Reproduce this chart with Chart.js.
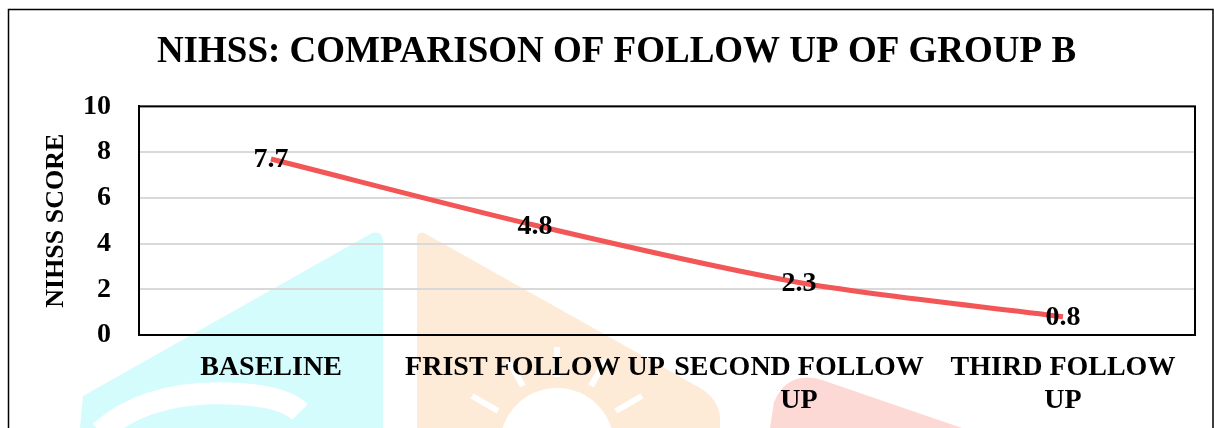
<!DOCTYPE html>
<html>
<head>
<meta charset="utf-8">
<script src="https://cdn.jsdelivr.net/npm/chart.js@4"></script>
<style>
  html, body { margin: 0; padding: 0; background: #fff; }
  #wrap { width: 1214px; height: 428px; position: relative; }
</style>
</head>
<body>
<div id="wrap"><canvas id="chart"></canvas></div>
<script>
// chart data
const categories = ['BASELINE', 'FRIST FOLLOW UP', 'SECOND FOLLOW UP', 'THIRD FOLLOW UP'];
const tickLabels = [['BASELINE'], ['FRIST FOLLOW UP'], ['SECOND FOLLOW', 'UP'], ['THIRD FOLLOW', 'UP']];
const scores = [7.7, 4.8, 2.3, 0.8];
const yTicks = [0, 2, 4, 6, 8, 10];

const serif = '"Liberation Serif", "Times New Roman", serif';
Chart.defaults.font.family = serif;
Chart.defaults.color = '#000';

// faint watermark behind the chart + outer frame
const backdrop = {
  id: 'backdrop',
  beforeDraw(chart) {
    const ctx = chart.ctx;
    ctx.save();
    ctx.fillStyle = '#fff';
    ctx.fillRect(0, 0, chart.width, chart.height);

    // cyan shape
    ctx.fillStyle = '#d4fcfc';
    ctx.beginPath();
    ctx.moveTo(80, 428);
    ctx.lineTo(83, 396);
    ctx.lineTo(372, 233);
    ctx.quadraticCurveTo(383, 230, 383, 242);
    ctx.lineTo(383, 428);
    ctx.closePath();
    ctx.fill();
    ctx.strokeStyle = '#fff';
    ctx.lineWidth = 22;
    ctx.beginPath();
    ctx.moveTo(100, 432);
    ctx.quadraticCurveTo(150, 388, 240, 394);
    ctx.quadraticCurveTo(285, 397, 300, 412);
    ctx.stroke();

    // orange shape with sun
    ctx.fillStyle = '#fdebd8';
    ctx.beginPath();
    ctx.moveTo(417, 428);
    ctx.lineTo(417, 238);
    ctx.quadraticCurveTo(418, 230, 426, 234);
    ctx.lineTo(700, 388);
    ctx.quadraticCurveTo(720, 400, 720, 420);
    ctx.lineTo(720, 428);
    ctx.closePath();
    ctx.fill();
    ctx.fillStyle = '#fff';
    ctx.beginPath();
    ctx.arc(557, 445, 57, 0, Math.PI * 2);
    ctx.fill();
    ctx.strokeStyle = '#fff';
    ctx.lineWidth = 6;
    [-150, -120, -90, -60, -30].forEach(a => {
      const r = a * Math.PI / 180;
      ctx.beginPath();
      ctx.moveTo(557 + Math.cos(r) * 68, 445 + Math.sin(r) * 68);
      ctx.lineTo(557 + Math.cos(r) * 98, 445 + Math.sin(r) * 98);
      ctx.stroke();
    });

    // red blob
    ctx.fillStyle = '#fdd9d5';
    ctx.beginPath();
    ctx.moveTo(770, 428);
    ctx.lineTo(774, 402);
    ctx.quadraticCurveTo(788, 370, 822, 380);
    ctx.lineTo(962, 428);
    ctx.closePath();
    ctx.fill();

    // outer frame
    ctx.strokeStyle = '#000';
    ctx.lineWidth = 1.5;
    ctx.beginPath();
    ctx.moveTo(8.5, 430);
    ctx.lineTo(8.5, 9.5);
    ctx.lineTo(1213, 9.5);
    ctx.lineTo(1213, 430);
    ctx.stroke();
    ctx.restore();
  },
  beforeDatasetsDraw(chart) {
    const { ctx, chartArea: a } = chart;
    ctx.save();
    ctx.strokeStyle = '#000';
    ctx.lineWidth = 2;
    ctx.strokeRect(a.left, a.top, a.right - a.left, a.bottom - a.top);
    ctx.restore();
  }
};

// value labels centred on the points
const valueLabels = {
  id: 'valueLabels',
  afterDatasetsDraw(chart) {
    const ctx = chart.ctx;
    const meta = chart.getDatasetMeta(0);
    ctx.save();
    ctx.font = 'bold 28px ' + serif;
    ctx.fillStyle = '#000';
    ctx.textAlign = 'center';
    ctx.textBaseline = 'middle';
    meta.data.forEach((pt, i) => {
      ctx.fillText(scores[i].toFixed(1), pt.x, pt.y + 1);
    });
    ctx.restore();
  }
};

new Chart(document.getElementById('chart'), {
  type: 'line',
  data: {
    labels: tickLabels,
    datasets: [{
      label: 'NIHSS',
      data: scores,
      borderColor: '#f35656',
      borderWidth: 5,
      tension: 0.3,
      pointRadius: 0,
      fill: false
    }]
  },
  options: {
    responsive: true,
    maintainAspectRatio: false,
    animation: false,
    layout: { padding: { left: 38, right: 19, top: 0, bottom: 0 } },
    plugins: {
      legend: { display: false },
      tooltip: { enabled: false },
      title: {
        display: true,
        text: 'NIHSS: COMPARISON OF FOLLOW UP OF GROUP B',
        color: '#000',
        font: { size: 37, weight: 'bold', family: serif, lineHeight: 1.2 },
        padding: { top: 30, bottom: 32 }
      }
    },
    scales: {
      x: {
        offset: true,
        grid: { display: false, drawTicks: false, offset: true },
        border: { display: true, color: '#000', width: 2 },
        ticks: {
          autoSkip: false,
          maxRotation: 0,
          minRotation: 0,
          padding: 17,
          font: { size: 28, weight: 'bold', lineHeight: 1.15 }
        },
        afterFit(scale) { scale.height = 93; }
      },
      y: {
        min: 0,
        max: 10,
        afterBuildTicks(scale) { scale.ticks = yTicks.map(v => ({ value: v })); },
        grid: { color: '#d9d9d9', lineWidth: 2, drawTicks: false },
        border: { display: true, color: '#000', width: 2 },
        ticks: {
          padding: 28,
          font: { size: 28, weight: 'bold' }
        },
        title: {
          display: true,
          text: 'NIHSS SCORE',
          color: '#000',
          font: { size: 26, weight: 'bold', lineHeight: 1.2 },
          padding: { top: 3, bottom: 0 }
        },
        afterFit(scale) { scale.width = 101; }
      }
    }
  },
  plugins: [backdrop, valueLabels]
});
</script>
</body>
</html>
